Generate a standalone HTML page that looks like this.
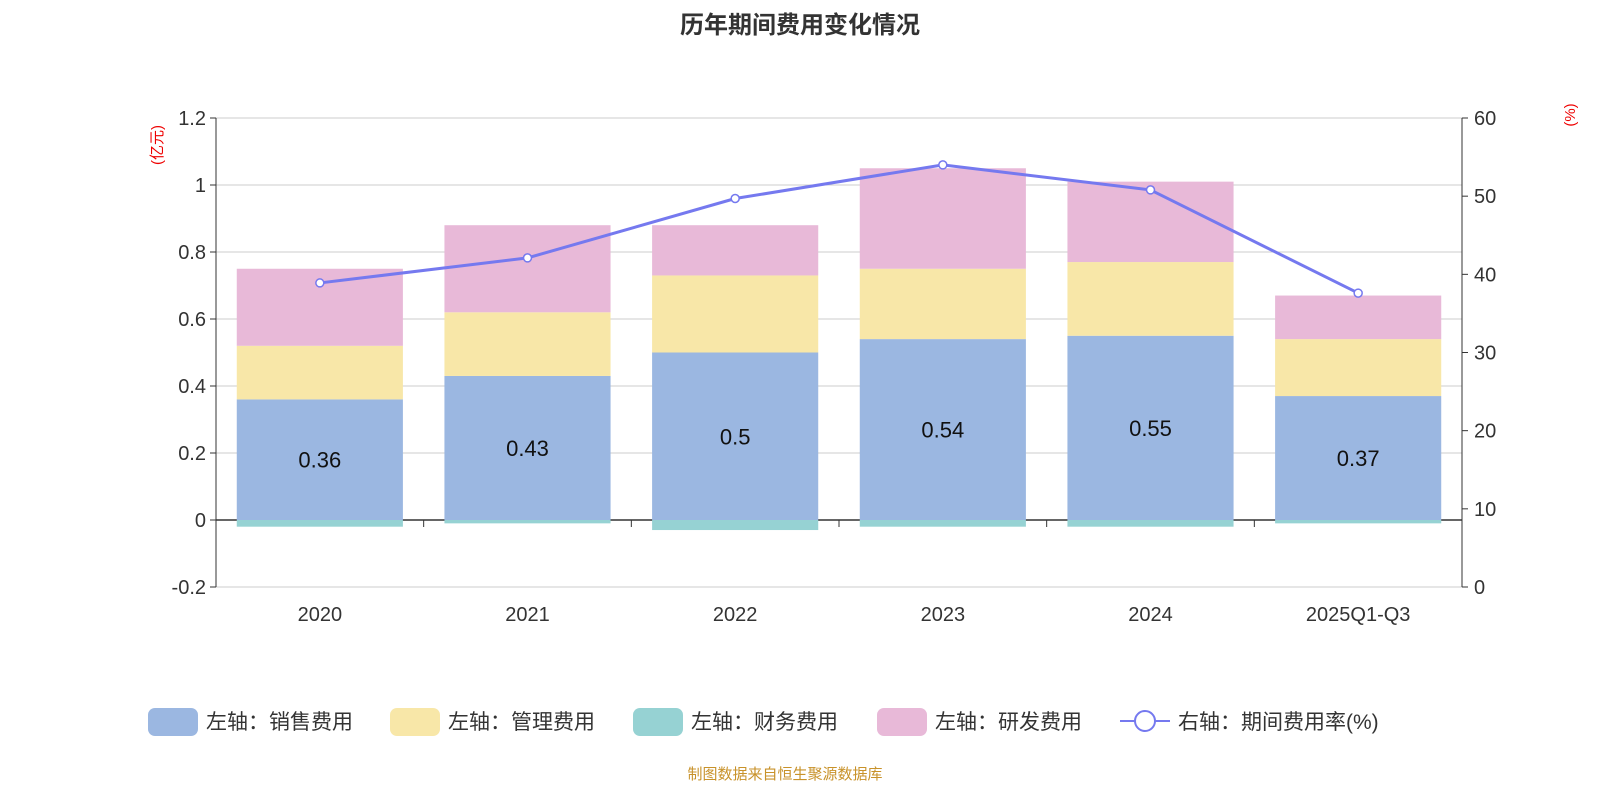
<!DOCTYPE html>
<html><head><meta charset="utf-8"><style>
body{margin:0;background:#fff;width:1600px;height:800px;overflow:hidden}
svg text{font-family:"Liberation Sans","Noto Sans CJK SC",sans-serif}
</style></head><body>
<svg id="c" width="1600" height="800">
<text x="800" y="33" text-anchor="middle" font-size="24" font-weight="bold" fill="#333">历年期间费用变化情况</text>
<text x="0" y="0" transform="translate(162,145) rotate(-90)" text-anchor="middle" font-size="15" fill="#e00">(亿元)</text>
<text x="0" y="0" transform="translate(1575,115) rotate(-90)" text-anchor="middle" font-size="15" fill="#e00">(%)</text>
<g id="grid"></g><g id="bars"></g><g id="axes"></g><g id="line"></g>
<g id="legend" font-size="21" fill="#333">
<rect x="148" y="708" width="50" height="28" rx="7" fill="#9bb7e1"/>
<text x="206" y="729">左轴：销售费用</text>
<rect x="390" y="708" width="50" height="28" rx="7" fill="#f8e7a8"/>
<text x="448" y="729">左轴：管理费用</text>
<rect x="633" y="708" width="50" height="28" rx="7" fill="#96d2d3"/>
<text x="691" y="729">左轴：财务费用</text>
<rect x="877" y="708" width="50" height="28" rx="7" fill="#e8b9d8"/>
<text x="935" y="729">左轴：研发费用</text>
<line x1="1120" y1="721" x2="1170" y2="721" stroke="#7579ef" stroke-width="2"/>
<circle cx="1145" cy="721" r="10" fill="#fff" stroke="#7579ef" stroke-width="2"/>
<text x="1178" y="729">右轴：期间费用率(%)</text>
</g>
<text x="785" y="779" text-anchor="middle" font-size="15" fill="#c8922a">制图数据来自恒生聚源数据库</text>
</svg>
<script>
const categories=["2020","2021","2022","2023","2024","2025Q1-Q3"];
const sales=[0.36,0.43,0.5,0.54,0.55,0.37];
const admin=[0.16,0.19,0.23,0.21,0.22,0.17];
const finance=[-0.02,-0.01,-0.03,-0.02,-0.02,-0.01];
const rd=[0.23,0.26,0.15,0.30,0.24,0.13];
const rate=[38.9,42.1,49.7,54.0,50.8,37.6];
const leftTicks=[-0.2,0,0.2,0.4,0.6,0.8,1,1.2];
const rightTicks=[0,10,20,30,40,50,60];
const NS="http://www.w3.org/2000/svg";
const X0=216,X1=1462,TOP=118,BOT=587;
const yL=v=>TOP+(1.2-v)/1.4*(BOT-TOP);
const yR=v=>BOT-v/60*(BOT-TOP);
const bw=(X1-X0)/categories.length;
const xc=i=>X0+bw*(i+0.5);
function mk(p,tag,a){const e=document.createElementNS(NS,tag);for(const k in a)e.setAttribute(k,a[k]);document.getElementById(p).appendChild(e);return e;}
leftTicks.forEach(t=>{
 const y=yL(t);
 const g=mk('grid','line',{x1:X0,x2:X1,y1:y,y2:y,stroke:t===0?'#333':'#ccc','stroke-width':t===0?1.5:1});
 
 const k=mk('axes','line',{x1:X0-6,x2:X0,y1:y,y2:y,stroke:'#333'});
 
 const tx=mk('axes','text',{x:X0-10,y:y+7,'text-anchor':'end','font-size':20,fill:'#333'});tx.textContent=t;
 
});
rightTicks.forEach(t=>{
 const y=yR(t);
 const k=mk('axes','line',{x1:X1,x2:X1+6,y1:y,y2:y,stroke:'#333'});
 
 const tx=mk('axes','text',{x:X1+12,y:y+7,'font-size':20,fill:'#333'});tx.textContent=t;
 
});
let a=mk('axes','line',{x1:X0,x2:X0,y1:TOP,y2:BOT,stroke:'#333'});
a=mk('axes','line',{x1:X1,x2:X1,y1:TOP,y2:BOT,stroke:'#333'});
for(let i=0;i<=categories.length;i++){const k=mk('axes','line',{x1:X0+bw*i,x2:X0+bw*i,y1:yL(0),y2:yL(0)+7,stroke:'#333'});}
const B=bw*0.8;
categories.forEach((c,i)=>{
 const x=xc(i)-B/2;
 const segs=[[0,sales[i],'#9bb7e1','bar-sales'],[sales[i],sales[i]+admin[i],'#f8e7a8','bar-admin'],[sales[i]+admin[i],sales[i]+admin[i]+rd[i],'#e8b9d8','bar-rd'],[finance[i],0,'#96d2d3','bar-finance']];
 segs.forEach(s=>{const r=mk('bars','rect',{x:x,width:B,y:yL(s[1]),height:yL(s[0])-yL(s[1]),fill:s[2]});});
 const t=mk('bars','text',{x:xc(i),y:yL(sales[i]/2)+8,'text-anchor':'middle','font-size':22,fill:'#111'});t.textContent=sales[i];
 
 const xl=mk('axes','text',{x:xc(i),y:621,'text-anchor':'middle','font-size':20,fill:'#333'});xl.textContent=c;
 
});
const pl=mk('line','polyline',{points:rate.map((v,i)=>xc(i)+','+yR(v)).join(' '),fill:'none',stroke:'#7579ef','stroke-width':3});

rate.forEach((v,i)=>{const p=mk('line','circle',{cx:xc(i),cy:yR(v),r:4,fill:'#fff',stroke:'#7579ef','stroke-width':1.5});});
</script>
</body></html>
